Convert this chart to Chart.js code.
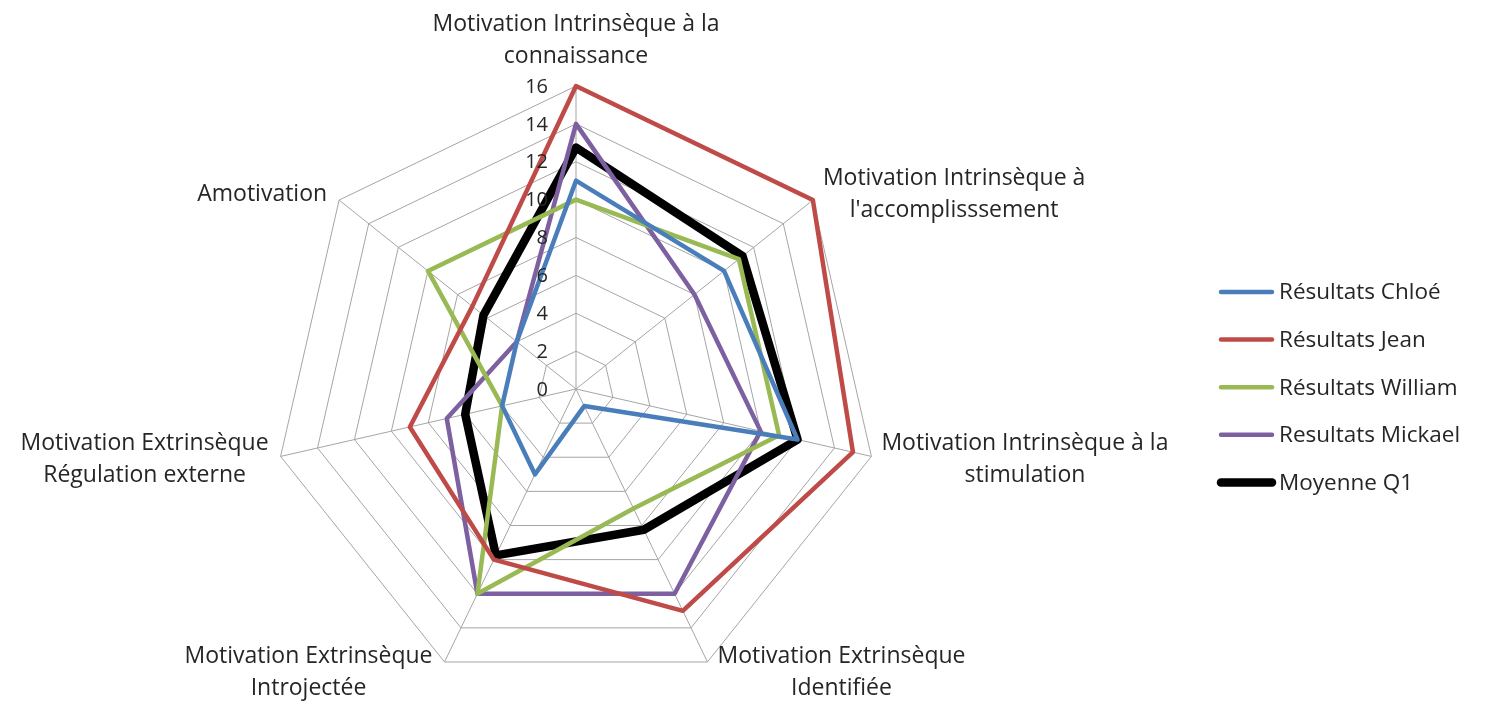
<!DOCTYPE html>
<html><head><meta charset="utf-8">
<script src="https://cdn.jsdelivr.net/npm/chart.js@4/dist/chart.umd.min.js"></script>
<style>html,body{margin:0;padding:0;background:#fff;} #wrap{width:1486px;height:701px;position:relative;}</style>
</head><body><div id="wrap"><canvas id="c"></canvas></div>
<script>
const categories = [
  ["Motivation Intrinsèque à la", "connaissance"],
  ["Motivation Intrinsèque à", "l'accomplisssement"],
  ["Motivation Intrinsèque à la", "stimulation"],
  ["Motivation Extrinsèque", "Identifiée"],
  ["Motivation Extrinsèque", "Introjectée"],
  ["Motivation Extrinsèque", "Régulation externe"],
  ["Amotivation"]
];
const seriesNames = ["Résultats Chloé", "Résultats Jean", "Résultats William", "Resultats Mickael", "Moyenne Q1"];
const chloe   = [11, 10, 12, 1, 5, 4, 4];
const jean    = [16, 16, 15, 13, 10, 9, 7];
const william = [10, 11, 11, 7, 12, 4, 10];
const mickael = [14, 8, 10, 12, 12, 7, 4];
const moyenne = [12.75, 11.25, 12, 8.25, 9.75, 6, 6.25];
const tickValues = [0, 2, 4, 6, 8, 10, 12, 14, 16];

const colors = ['#4a7ebb', '#be4b48', '#98b954', '#7d60a0', '#000000'];
const widths = [4.5, 4.5, 4.5, 4.5, 8.5];
const seriesData = [chloe, jean, william, mickael, moyenne];

const LABEL_FONT = '23px "Open Sans"';
const LEGEND_FONT = '22.5px "Open Sans"';
const TICK_FONT = '20px "Open Sans"';
const TEXT_COLOR = '#262626';

const excelPlugin = {
  id: 'excelLabels',
  afterDraw(chart) {
    const s = chart.scales.r;
    const ctx = chart.ctx;
    ctx.save();
    ctx.fillStyle = TEXT_COLOR;
    ctx.textBaseline = 'middle';
    // tick labels, left of the vertical axis
    ctx.font = TICK_FONT;
    ctx.textAlign = 'right';
    s.ticks.forEach(t => {
      const d = s.getDistanceFromCenterForValue(t.value);
      ctx.fillText(t.label, s.xCenter - 28, s.yCenter - d + 1);
    });
    // category labels
    ctx.font = LABEL_FONT;
    const lh = 32;
    chart.data.labels.forEach((lines, i) => {
      const p = s.getPointPosition(i, s.drawingArea);
      const ang = s.getIndexAngle(i) - Math.PI / 2;
      const sin = Math.sin(ang), cos = Math.cos(ang);
      const w = Math.max(...lines.map(l => ctx.measureText(l).width));
      const h = lines.length * lh;
      let cx, cy;
      if (Math.abs(cos) < 0.05) { cx = p.x; cy = p.y - 14 - h / 2; }
      else { cx = cos > 0 ? p.x + 10 + w / 2 : p.x - 12 - w / 2; cy = p.y + 1 + 11 * sin; }
      ctx.textAlign = 'center';
      lines.forEach((l, k) => ctx.fillText(l, cx, cy - h / 2 + lh / 2 + k * lh));
    });
    // legend
    ctx.font = LEGEND_FONT;
    ctx.textAlign = 'left';
    ctx.lineCap = 'round';
    chart.data.datasets.forEach((ds, k) => {
      const y = 292 + k * 47.6;
      ctx.strokeStyle = ds.borderColor;
      ctx.lineWidth = ds.borderWidth;
      ctx.beginPath();
      ctx.moveTo(1221, y);
      ctx.lineTo(1272, y);
      ctx.stroke();
      ctx.fillText(ds.label, 1279, y + 1);
    });
    ctx.restore();
  }
};

new Chart(document.getElementById('c'), {
  type: 'radar',
  data: {
    labels: categories,
    datasets: seriesData.map((d, k) => ({
      label: seriesNames[k],
      data: d,
      borderColor: colors[k],
      backgroundColor: colors[k],
      borderWidth: widths[k],
      fill: false,
      pointRadius: 0,
      pointHoverRadius: 0,
      tension: 0,
      borderJoinStyle: 'round'
    }))
  },
  options: {
    responsive: true,
    maintainAspectRatio: false,
    animation: false,
    layout: { padding: { left: 273, right: 607, top: 86, bottom: 9 } },
    plugins: { legend: { display: false }, tooltip: { enabled: false } },
    scales: {
      r: {
        min: tickValues[0],
        max: tickValues[tickValues.length - 1],
        ticks: { stepSize: tickValues[1] - tickValues[0], display: false },
        grid: { circular: false, color: '#a5a5a5', lineWidth: 1 },
        angleLines: { display: true, color: '#a5a5a5', lineWidth: 1 },
        pointLabels: { display: false }
      }
    }
  },
  plugins: [excelPlugin]
});
</script>
<style>#wrap canvas{width:1486px !important;height:701px !important;}</style>
</body></html>
